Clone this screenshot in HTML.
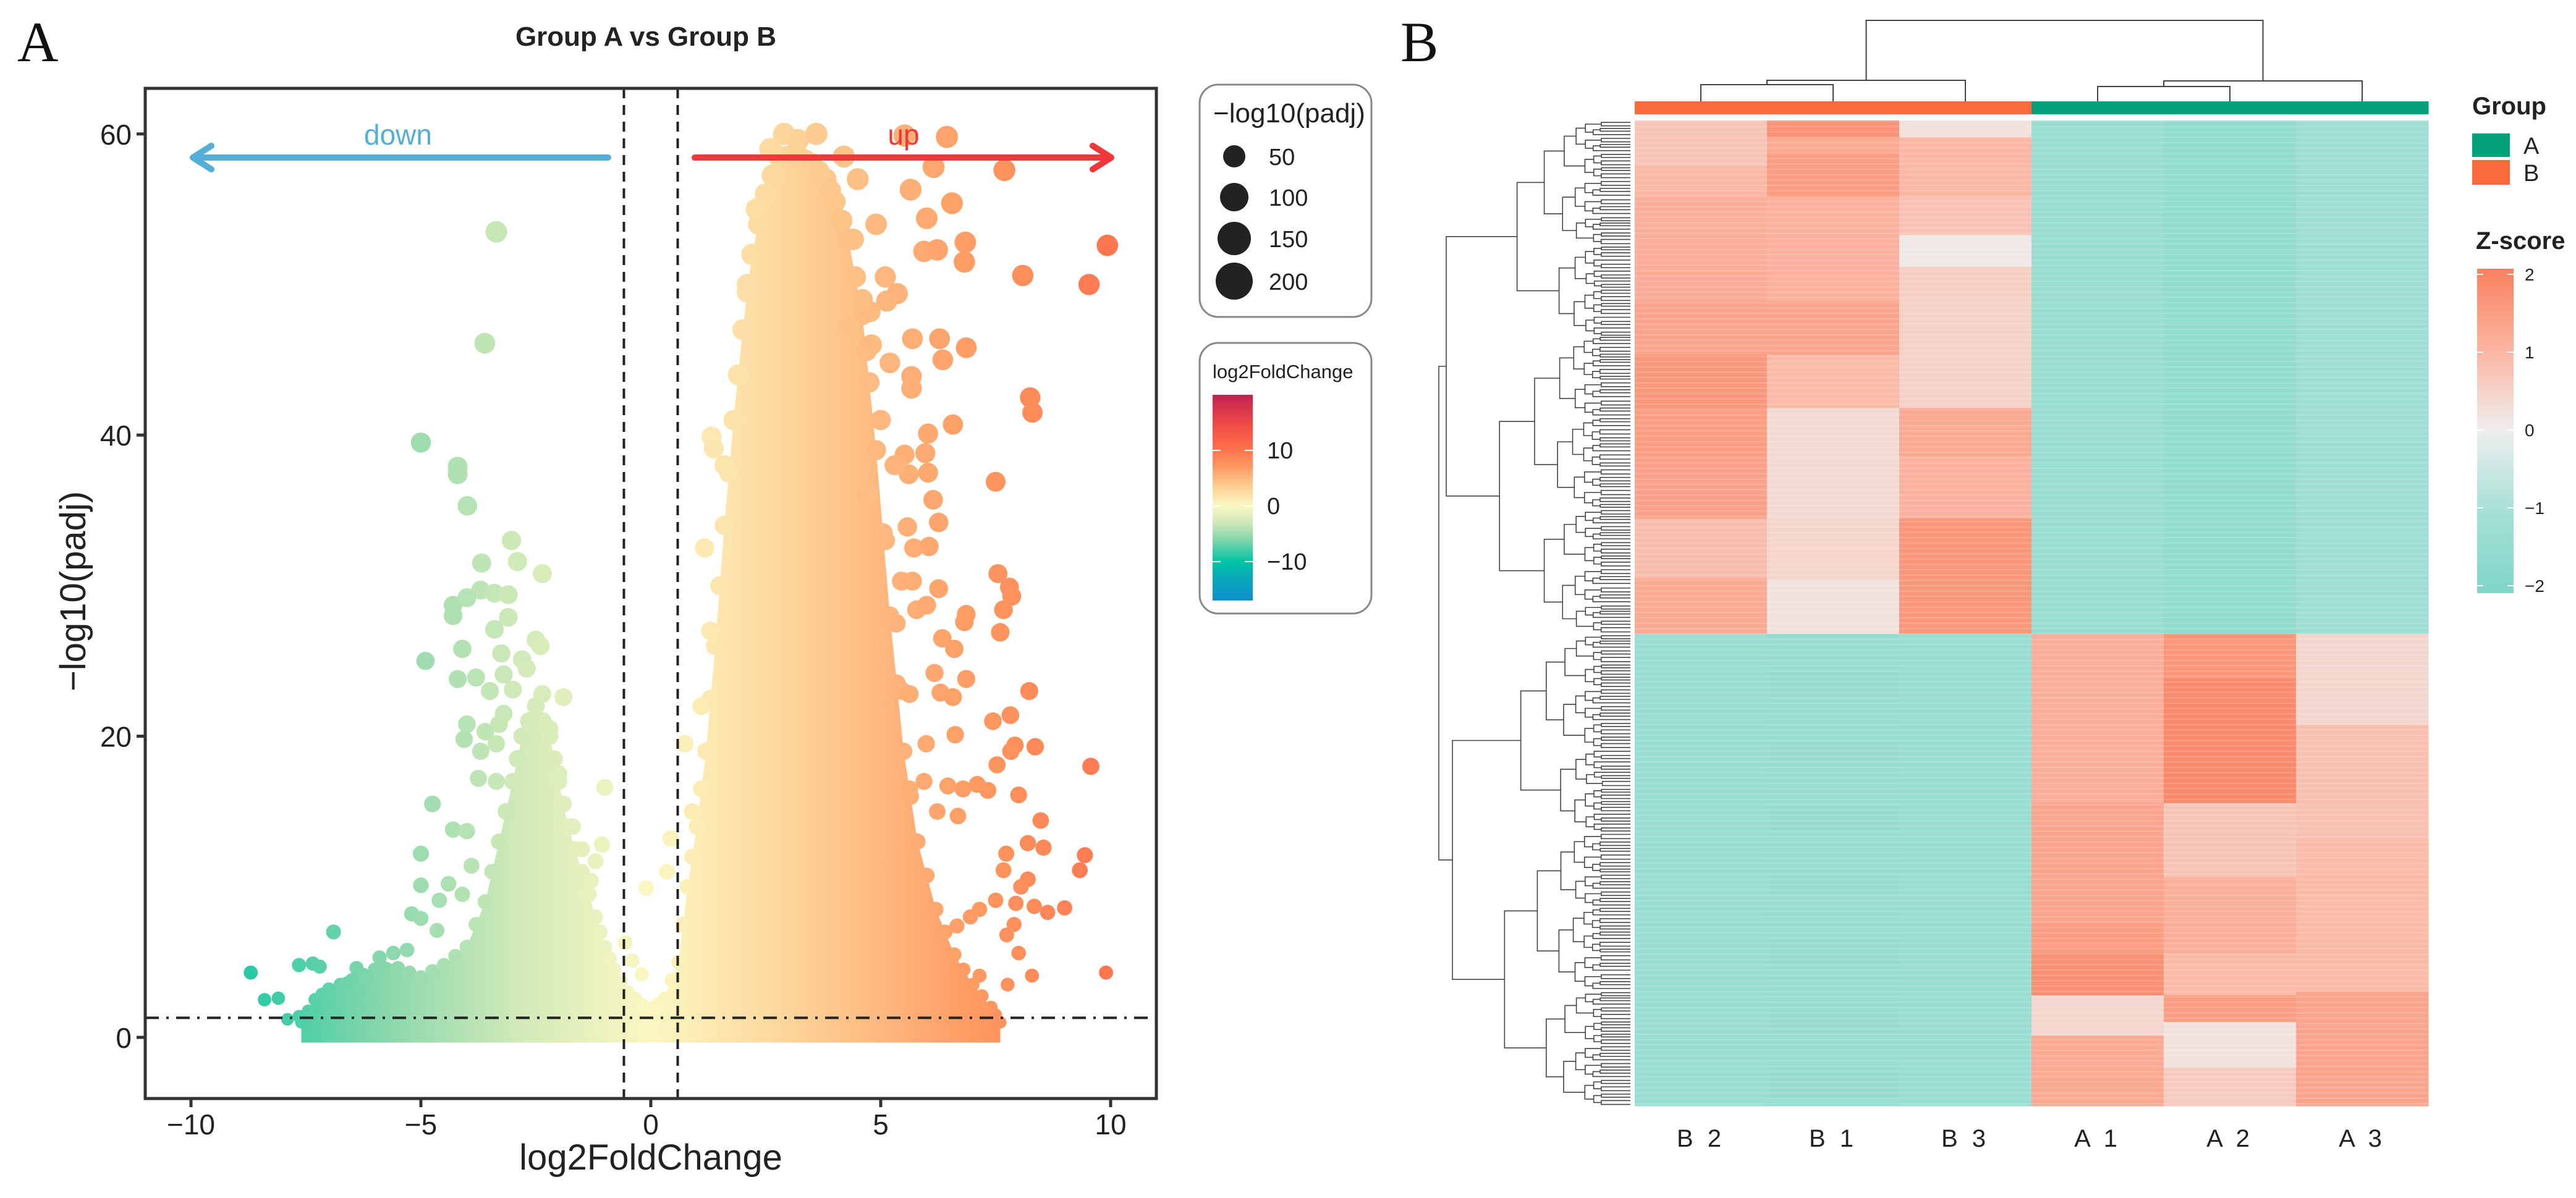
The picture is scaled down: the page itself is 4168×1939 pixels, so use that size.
<!DOCTYPE html>
<html><head><meta charset="utf-8"><title>Volcano and heatmap</title>
<style>
html,body{margin:0;padding:0;background:#fff;}
svg{display:block;font-family:"Liberation Sans",Arial,sans-serif;}
</style></head>
<body>
<svg id="fig" xmlns="http://www.w3.org/2000/svg" width="4168" height="1939" viewBox="0 0 4168 1939">
<defs>
<linearGradient id="lfcbar" x1="0" y1="0" x2="0" y2="1"></linearGradient>
<linearGradient id="zbar" x1="0" y1="0" x2="0" y2="1"></linearGradient>
<linearGradient id="cloudgrad" gradientUnits="userSpaceOnUse" x1="0" y1="0" x2="1" y2="0"></linearGradient>
</defs>
<text x="28" y="99" font-family="Liberation Serif, serif" font-size="92" fill="#111">A</text>
<text x="2266" y="99" font-family="Liberation Serif, serif" font-size="92" fill="#111">B</text>
<text x="1045" y="74" text-anchor="middle" font-size="44" font-weight="bold" fill="#222">Group A vs Group B</text>
<g id="volcano"></g>
<g id="legends"></g>
<g id="heat"></g>
</svg>
<script>
// ===== Volcano data (log2FoldChange, -log10 padj) =====
const ptX = [-3.36,-3.61,-5.0,-4.2,-4.2,-3.99,-3.03,-3.68,-2.9,-2.36,-3.7,-3.4,-3.1,-4.3,-4.3,-4.0,-3.1,-3.4,-2.5,-4.1,-4.9,-3.25,-4.2,-3.8,-3.2,-2.8,-3.5,-3.0,-1.9,-2.36,-2.6,-3.3,-4.0,-3.6,-4.06,-3.7,-3.36,-3.75,-3.36,-1.0,-4.75,-4.3,-4.0,-5.0,-1.06,-3.9,-1.2,-5.0,-4.4,-4.1,-4.6,-1.3,-0.1,-5.2,-5.0,-4.65,-6.9,-5.9,-5.6,-5.3,-7.65,-7.35,-7.2,-6.4,-8.7,-8.4,-8.1,-7.9,-7.65,-0.56,-0.4,-0.2,-7.0,-6.6,-6.2,-5.8,-7.3,-6.9,-6.1,-2.2,-2.0,-2.7,-2.4,-1.7,-1.5,-3.2,-2.9,
6.44,5.52,6.15,7.69,5.65,6.55,6.0,6.84,6.82,5.94,6.23,9.93,8.09,9.53,5.36,5.13,4.77,4.3,5.69,6.28,6.86,6.35,4.69,5.2,5.67,5.67,4.75,8.25,8.3,6.57,6.03,5.97,6.03,5.52,5.61,7.5,6.14,6.26,5.58,5.72,6.05,7.55,5.45,5.69,6.26,7.8,7.85,7.67,7.6,6.86,6.82,5.34,5.78,6.0,6.34,6.6,5.02,6.17,6.86,8.23,5.47,5.63,6.3,6.57,7.44,7.82,6.62,5.99,8.36,7.92,7.83,9.57,7.53,5.34,5.63,5.94,6.46,6.79,7.1,7.33,8.0,6.68,6.23,8.48,8.2,8.54,9.44,9.33,7.73,7.67,8.2,8.05,9.0,8.63,8.34,7.94,7.9,7.74,8.0,7.15,7.76,8.29,9.9,7.2,6.52,5.98,6.3,6.66,6.95,7.15,7.5,1.32,1.37,1.17,0.74,0.43,0.35,2.9,3.2,3.6,4.2,4.5,2.6,5.1,4.9,1.6,1.9,2.1,2.3,4.6,4.8,5.0,4.4,4.7,5.3,5.1,1.3,1.1,0.9];
const ptY = [53.5,46.1,39.5,37.9,37.4,35.3,33.0,31.5,31.6,30.8,29.7,29.5,29.4,28.7,28.0,29.2,27.9,27.1,26.4,25.8,25.0,25.5,23.8,23.9,24.1,25.1,23.0,23.1,22.6,22.8,21.0,20.8,20.8,20.3,19.8,19.0,19.5,17.2,17.0,16.6,15.5,13.8,13.7,12.2,12.8,11.4,11.7,10.1,10.2,9.5,9.1,10.4,9.9,8.2,7.9,7.1,7.0,5.3,5.6,5.8,4.8,4.9,4.7,4.6,4.3,2.5,2.6,1.2,1.4,6.3,5.1,4.2,3.0,3.6,4.0,4.6,1.8,1.5,2.4,20.5,17.5,24.5,26.0,14.0,12.5,21.5,18.5,
59.8,59.9,57.8,57.6,56.3,55.4,54.4,52.8,51.5,52.2,52.3,52.6,50.6,50.0,49.4,48.9,48.2,47.2,46.4,46.4,45.8,45.0,45.6,44.8,43.9,43.1,43.5,42.5,41.5,40.7,40.1,38.8,37.5,38.7,37.4,36.9,35.7,34.2,33.9,32.5,32.6,30.8,30.3,30.3,29.8,29.9,29.3,28.4,26.9,28.1,27.6,27.5,28.4,28.7,26.5,25.8,26.2,24.2,23.8,23.0,23.0,22.8,22.9,22.6,21.0,21.4,20.1,19.5,19.3,19.4,19.0,18.0,18.1,16.7,16.5,17.0,16.7,16.5,16.8,16.4,16.1,14.7,15.0,14.4,12.9,12.6,12.1,11.1,12.2,11.1,10.5,10.0,8.6,8.3,8.7,8.9,7.5,6.8,5.6,4.1,3.5,4.1,4.3,2.0,1.0,6.1,6.6,7.4,8.0,8.5,9.1,39.9,39.1,32.5,19.5,13.2,11.0,60.0,59.6,60.0,58.5,57.0,59.0,50.5,54.0,38.0,44.0,50.0,55.0,49.0,46.0,41.0,53.0,36.0,38.0,33.0,27.0,22.0,15.0];
// density envelope (upper bound of the packed point cloud per x)
const envX = [-7.6,-7.3,-7.0,-6.5,-6.0,-5.5,-5.0,-4.5,-4.0,-3.6,-3.3,-3.0,-2.8,-2.5,-2.2,-2.0,-1.8,-1.5,-1.2,-1.0,-0.8,-0.5,-0.2,0.0,0.3,0.6,0.8,1.0,1.2,1.4,1.6,1.8,2.0,2.2,2.5,2.8,3.2,3.5,3.8,4.0,4.3,4.6,4.9,5.2,5.5,5.8,6.2,6.6,7.0,7.4,7.6];
const envY = [1.0,2.5,3.2,3.8,4.5,4.6,4.0,4.8,6.0,9.0,13.0,17.0,20.0,22.0,20.0,17.0,14.0,11.0,8.0,6.0,4.5,3.0,2.2,1.8,2.6,5.0,10.0,14.0,19.0,26.0,34.0,41.0,47.0,52.0,56.0,58.5,58.5,58.0,57.0,55.5,53.0,48.0,39.0,28.0,19.0,13.0,8.5,5.5,3.5,2.0,1.0];
const xTicks = [-10,-5,0,5,10];
const yTicks = [0,20,40,60];
const sizeLegendVals = [50,100,150,200];
const lfcLegendTicks = [10,0,-10];
const fcCut = 0.585, padjCut = 1.3;

// ===== Heatmap data: segments per column (gene rank end, z-score) =====
const sampleNames = ["B 2","B 1","B 3","A 1","A 2","A 3"];
const sampleGroup = ["B","B","B","A","A","A"];
const totalGenes = 1292;
const segEnd = [
 [60,100,160,237,307,377,442,522,600,673,1292],
 [22,42,100,237,307,377,522,602,673,1292],
 [22,100,150,192,232,377,440,522,600,673,1292],
 [673,1292],
 [673,1292],
 [673,1292]
];
const segZ = [
 [0.7,0.95,1.1,1.15,1.3,1.55,1.45,1.35,0.85,1.2,-1.3],
 [1.65,1.2,1.45,1.05,1.3,0.9,0.35,0.45,0.2,-1.4],
 [0.25,0.95,0.75,0.1,0.55,0.5,1.2,1.05,1.6,1.55,-1.3],
 [-1.3,1.0],
 [-1.5,1.0],
 [-1.2,1.0]
];
const lowEnd = [
 [895,1052,1092,1147,1200,1292],
 [732,895,992,1092,1147,1182,1242,1292],
 [792,942,1142,1292]
];
const lowZ = [
 [1.1,1.3,1.45,1.7,0.4,1.2],
 [1.6,1.8,0.7,1.1,0.9,1.45,0.2,0.6],
 [0.4,0.8,0.9,1.3]
];
const zTicks = [2,1,0,-1,-2];

const NS = "http://www.w3.org/2000/svg";
function mk(tag, attrs, parent){ const e=document.createElementNS(NS,tag); for(const k in attrs) e.setAttribute(k,attrs[k]); parent.appendChild(e); return e; }

const PL=235, PR=1871, PT=143, PB=1778;
const X0=1053, XU=74.4, Y0=1679, YU=24.37;
const sx = v => X0 + v*XU;
const sy = v => Y0 - v*YU;
const lfcStops = [[-17,[13,143,207]],[-13,[10,168,184]],[-10,[0,196,164]],[-6,[131,214,171]],[-3,[207,233,184]],[0,[251,247,194]],[3,[253,213,154]],[7,[254,155,99]],[11,[255,106,72]],[15,[238,72,72]],[20,[191,33,80]]];
function lfcColor(v){
  if(v<=lfcStops[0][0]) v=lfcStops[0][0];
  if(v>=20) v=20;
  for(let i=0;i<lfcStops.length-1;i++){
    const a=lfcStops[i],b=lfcStops[i+1];
    if(v>=a[0]&&v<=b[0]){const t=(v-a[0])/(b[0]-a[0]);
      const c=a[1].map((q,j)=>Math.round(q+(b[1][j]-q)*t)); return `rgb(${c[0]},${c[1]},${c[2]})`;}
  }
  return "#ccc";
}
const rad = y => 9 + 9*Math.sqrt(Math.max(0,Math.min(y,60))/60);

const lg=document.getElementById('lfcbar');
const cg=document.getElementById('cloudgrad');
cg.setAttribute('x1', sx(-17)); cg.setAttribute('x2', sx(20));
const lstops=[];
for(let i=0;i<lfcStops.length;i++){
  const s=lfcStops[i]; const c=`rgb(${s[1].join(',')})`;
  lstops.push([(20-s[0])/37,c]);
  mk('stop',{offset:((s[0]+17)/37),'stop-color':c},cg);
}
lstops.sort((a,b)=>a[0]-b[0]).forEach(s=>mk('stop',{offset:s[0],'stop-color':s[1]},lg));

const V=document.getElementById('volcano');
const clip=mk('clipPath',{id:'pclip'},document.querySelector('defs'));
mk('rect',{x:PL,y:PT,width:PR-PL,height:PB-PT},clip);
const pg=mk('g',{'clip-path':'url(#pclip)'},V);



// cloud polygon (dense core)
let pts=[`${sx(envX[0])},${sy(-0.35)}`];
for(let i=0;i<envX.length;i++) pts.push(`${sx(envX[i])},${sy(envY[i])}`);
pts.push(`${sx(envX[envX.length-1])},${sy(-0.35)}`);
const cloud=mk('polygon',{points:pts.join(' '),fill:'url(#cloudgrad)'},pg);


// ragged edge of the cloud: circles along envelope
for(let i=0;i<envX.length;i++){
  const e=mk('circle',{cx:sx(envX[i]),cy:sy(envY[i]),r:rad(envY[i]),fill:lfcColor(envX[i])},pg);
  
  
  if(i<envX.length-1){
    const mx=(envX[i]+envX[i+1])/2, my=(envY[i]+envY[i+1])/2;
    const e2=mk('circle',{cx:sx(mx),cy:sy(my),r:rad(my),fill:lfcColor(mx)},pg);
    
    
  }
}
for(let i=0;i<ptX.length;i++){
  const c=mk('circle',{cx:sx(ptX[i]),cy:sy(ptY[i]),r:rad(ptY[i]),fill:lfcColor(ptX[i])},pg);
  
  
}
for(const v of [-fcCut,fcCut]){
  const l=mk('line',{x1:sx(v),x2:sx(v),y1:PT,y2:PB,stroke:'#222','stroke-width':4,'stroke-dasharray':'16 11'},V);
  
  
}
const hl=mk('line',{x1:PL,x2:PR,y1:sy(padjCut),y2:sy(padjCut),stroke:'#222','stroke-width':4,'stroke-dasharray':'22 12 4 12'},V);



const ad=mk('g',{},V);


mk('line',{x1:984,x2:314,y1:255,y2:255,stroke:'#53afd7','stroke-width':10,'stroke-linecap':'round'},ad);
mk('polyline',{points:'342,236 312,255 342,274',fill:'none',stroke:'#53afd7','stroke-width':10,'stroke-linecap':'round','stroke-linejoin':'round'},ad);
const dt=mk('text',{x:644,y:234,'text-anchor':'middle','font-size':46,fill:'#53afd7'},V); dt.textContent='down';


const au=mk('g',{},V);


mk('line',{x1:1124,x2:1796,y1:255,y2:255,stroke:'#f0383a','stroke-width':10,'stroke-linecap':'round'},au);
mk('polyline',{points:'1768,236 1798,255 1768,274',fill:'none',stroke:'#f0383a','stroke-width':10,'stroke-linecap':'round','stroke-linejoin':'round'},au);
const ut=mk('text',{x:1462,y:234,'text-anchor':'middle','font-size':46,fill:'#f0383a'},V); ut.textContent='up';



const fr=mk('rect',{x:PL,y:PT,width:PR-PL,height:PB-PT,fill:'none',stroke:'#333','stroke-width':5},V);


for(const t of xTicks){
  mk('line',{x1:sx(t),x2:sx(t),y1:PB,y2:PB+14,stroke:'#333','stroke-width':5},V);
  const tx=mk('text',{x:sx(t),y:PB+58,'text-anchor':'middle','font-size':46,fill:'#222'},V);
  tx.textContent=t<0?'\u2212'+(-t):String(t);
  
  
}
for(const t of yTicks){
  mk('line',{x1:PL-14,x2:PL,y1:sy(t),y2:sy(t),stroke:'#333','stroke-width':5},V);
  const ty=mk('text',{x:PL-22,y:sy(t)+17,'text-anchor':'end','font-size':46,fill:'#222'},V);
  ty.textContent=String(t);
  
  
}
const xt=mk('text',{x:1053,y:1893,'text-anchor':'middle','font-size':58,fill:'#222'},V); xt.textContent='log2FoldChange';


const yt=mk('text',{x:0,y:0,'text-anchor':'middle','font-size':58,fill:'#222',transform:'translate(138,957) rotate(-90)'},V); yt.textContent='\u2212log10(padj)';



const L=document.getElementById('legends');
const b1=mk('rect',{x:1941,y:137,width:278,height:376,rx:30,fill:'#fff',stroke:'#888','stroke-width':3},L);


const st=mk('text',{x:1963,y:198,'font-size':44,fill:'#222'},L); st.textContent='\u2212log10(padj)';


const sizeR=[18,23,27,30], sizeY=[253,319,386,455];
for(let i=0;i<sizeLegendVals.length;i++){
  const c=mk('circle',{cx:1997,cy:sizeY[i],r:sizeR[i],fill:'#222'},L);
  
  
  const t=mk('text',{x:2053,y:sizeY[i]+14,'font-size':38,fill:'#222'},L); t.textContent=sizeLegendVals[i];
  
  
}
const b2=mk('rect',{x:1941,y:555,width:278,height:438,rx:30,fill:'#fff',stroke:'#888','stroke-width':3},L);


const ct=mk('text',{x:1962,y:612,'font-size':31,fill:'#222'},L); ct.textContent='log2FoldChange';


const cbar=mk('rect',{x:1962,y:639,width:65,height:333,fill:'url(#lfcbar)'},L);


const cby = v => 639 + (20-v)/37*333;
for(const t of lfcLegendTicks){
  mk('line',{x1:1962,x2:1975,y1:cby(t),y2:cby(t),stroke:'#fff','stroke-width':2},L);
  mk('line',{x1:2014,x2:2027,y1:cby(t),y2:cby(t),stroke:'#fff','stroke-width':2},L);
  const t2=mk('text',{x:2050,y:cby(t)+13,'font-size':38,fill:'#222'},L); t2.textContent=t<0?'\u2212'+(-t):String(t);
  
  
}

// ===== Heatmap =====
const H=document.getElementById('heat');
const HL=2645, HR=3929, HT=195, HB=1790, CW=(HR-HL)/6;
const ry = r => HT + r*(HB-HT)/totalGenes;
const zStops=[[-2,[126,213,200]],[-1,[166,224,214]],[0,[238,238,238]],[1,[251,180,160]],[2,[248,128,95]]];
function zColor(z){
  z=Math.max(-2,Math.min(2,z));
  for(let i=0;i<zStops.length-1;i++){const a=zStops[i],b=zStops[i+1];
    if(z>=a[0]&&z<=b[0]){const t=(z-a[0])/(b[0]-a[0]);const c=a[1].map((q,j)=>Math.round(q+(b[1][j]-q)*t));return `rgb(${c[0]},${c[1]},${c[2]})`;}}
}
for(let c=0;c<6;c++){
  let ends=segEnd[c], zs=segZ[c];
  if(c>=3){ ends=[673].concat(lowEnd[c-3]); zs=[segZ[c][0]].concat(lowZ[c-3]); }
  let start=0;
  for(let s=0;s<ends.length;s++){
    const r=mk('rect',{x:HL+c*CW,y:ry(start),width:CW+0.5,height:ry(ends[s])-ry(start)+0.5,fill:zColor(zs[s])},H);
    
    
    start=ends[s];
  }
  const lab=mk('text',{x:HL+c*CW+CW/2,y:1856,'text-anchor':'middle','font-size':40,fill:'#222','letter-spacing':'6'},H);
  lab.textContent=sampleNames[c];
  
  
  const ab=mk('rect',{x:HL+c*CW,y:164,width:CW+0.5,height:21,fill:sampleGroup[c]==='A'?'#06a17b':'#fb6a3a'},H);
  
  
}
const stripe=mk('g',{opacity:0.14},H);


for(let r=0;r<totalGenes;r+=7){
  mk('rect',{x:HL,y:ry(r),width:HR-HL,height:2.5,fill:'#fff'},stripe);
}
const cd=mk('g',{fill:'none',stroke:'#444','stroke-width':2},H);


const cx = i => HL+i*CW+CW/2;
const pl=(p)=>mk('polyline',{points:p},cd);
pl(`${cx(0)},164 ${cx(0)},137 ${cx(1)},137 ${cx(1)},164`);
pl(`${(cx(0)+cx(1))/2},137 ${(cx(0)+cx(1))/2},130 ${cx(2)},130 ${cx(2)},164`);
pl(`${cx(3)},164 ${cx(3)},140 ${cx(4)},140 ${cx(4)},164`);
pl(`${(cx(3)+cx(4))/2},140 ${(cx(3)+cx(4))/2},131 ${cx(5)},131 ${cx(5)},164`);
const lm=((cx(0)+cx(1))/2+cx(2))/2, rm=((cx(3)+cx(4))/2+cx(5))/2;
pl(`${lm},130 ${lm},33 ${rm},33 ${rm},131`);
const rd=mk('g',{fill:'none',stroke:'#444','stroke-width':1.6},H);


function tree(a,b,depth){
  if(b-a<=6 || depth>10){ const m=(ry(a)+ry(b))/2; mk('line',{x1:2618-depth*2,x2:2638,y1:m,y2:m},rd); return [m,2618-depth*2]; }
  const f=[0.5,0.42,0.58,0.47,0.55][depth%5];
  const m=Math.round(a+(b-a)*f);
  const L1=tree(a,m,depth+1), R1=tree(m,b,depth+1);
  const x=Math.max(2340, Math.min(L1[1],R1[1]) - 10 - (b-a)*0.12);
  mk('polyline',{points:`${L1[1]},${L1[0]} ${x},${L1[0]} ${x},${R1[0]} ${R1[1]},${R1[0]}`},rd);
  return [(L1[0]+R1[0])/2,x];
}
const up=tree(0,673,1), lo=tree(673,1292,1);
mk('polyline',{points:`${up[1]},${up[0]} 2328,${up[0]} 2328,${lo[0]} ${lo[1]},${lo[0]}`},rd);

const gl=mk('text',{x:4000,y:185,'font-size':40,'font-weight':'bold',fill:'#222'},H); gl.textContent='Group';


const gA=mk('rect',{x:4000,y:216,width:61,height:38,fill:'#06a17b'},H);


const gB=mk('rect',{x:4000,y:259,width:61,height:40,fill:'#fb6a3a'},H);


const tA=mk('text',{x:4083,y:249,'font-size':38,fill:'#222'},H); tA.textContent='A';


const tB=mk('text',{x:4083,y:293,'font-size':38,fill:'#222'},H); tB.textContent='B';


const zt=mk('text',{x:4006,y:403,'font-size':40,'font-weight':'bold',fill:'#222'},H); zt.textContent='Z-score';


const zg=document.getElementById('zbar');
for(let i=zStops.length-1;i>=0;i--){ mk('stop',{offset:(2-zStops[i][0])/4,'stop-color':`rgb(${zStops[i][1].join(',')})`},zg); }
const zb=mk('rect',{x:4008,y:435,width:59,height:525,fill:'url(#zbar)'},H);


const zy = v => 444 + (2-v)/4*(948-444);
for(const t of zTicks){
  mk('line',{x1:4008,x2:4018,y1:zy(t),y2:zy(t),stroke:'#fff','stroke-width':2},H);
  mk('line',{x1:4057,x2:4067,y1:zy(t),y2:zy(t),stroke:'#fff','stroke-width':2},H);
  const l=mk('text',{x:4085,y:zy(t)+10,'font-size':28,fill:'#222'},H); l.textContent=t<0?'\u2212'+(-t):String(t);
  
  
}
</script>
</body></html>
